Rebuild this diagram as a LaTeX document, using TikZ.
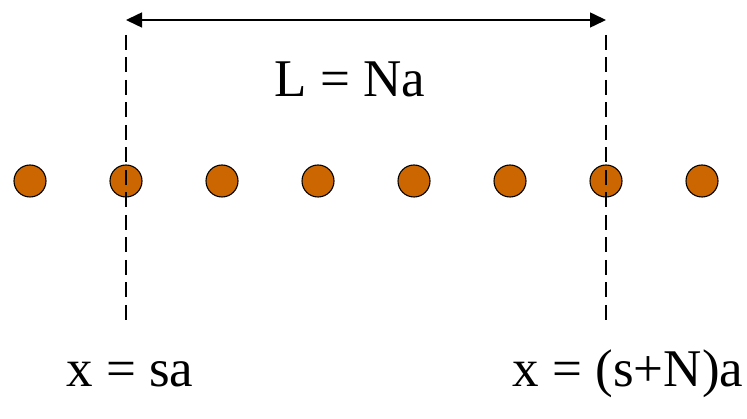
\documentclass[tikz,border=0pt]{standalone}
\usepackage{fontspec}
\setmainfont{Liberation Serif}
\usepackage{tikz}
\usetikzlibrary{arrows.meta, positioning, calc}
\definecolor{atomorange}{RGB}{204,102,0}
\definecolor{mydark}{RGB}{0,0,0}
\tikzset{
  atom/.style={circle, draw=mydark, fill=atomorange,
    minimum size=32pt, inner sep=0pt, line width=1.1pt},
  cellline/.style={dashed, dash pattern=on 15pt off 7.5pt, line width=1.5pt, color=mydark},
  lenarrow/.style={{Triangle[length=16pt, width=15pt]}-{Triangle[length=16pt, width=15pt]},
    line width=1.5pt, color=mydark},
  biglabel/.style={anchor=base, inner sep=0pt, font=\fontsize{53}{60}\selectfont}
}
\begin{document}
\begin{tikzpicture}[x=1pt, y=-1pt]
  \useasboundingbox (0,0) rectangle (747,419);

  % Row of atoms, spacing a
  \foreach \i in {0,...,7}
    \node[atom] (atom\i) at (30+96*\i, 181) {};

  % Ends of the chain segment
  \coordinate (sTop) at (126, 35);
  \coordinate (sBot) at (126, 325);
  \coordinate (nTop) at (606, 35);
  \coordinate (nBot) at (606, 325);
  \coordinate (arrL) at (126, 20);
  \coordinate (arrR) at (606, 20);

  % Dashed markers through atoms s and s+N
  \draw[cellline] (sTop) -- (sBot);
  \draw[cellline] (nTop) -- (nBot);

  % Length of the chain
  \draw[lenarrow] (arrL) -- (arrR);
  \node[biglabel] (lenlabel) at (350, 97) {L = Na};

  % Positions
  \node[biglabel] (startlabel) at (130, 387) {x = sa};
  \node[biglabel] (endlabel) at (628, 387) {x = (s+N)a};
\end{tikzpicture}
\end{document}
